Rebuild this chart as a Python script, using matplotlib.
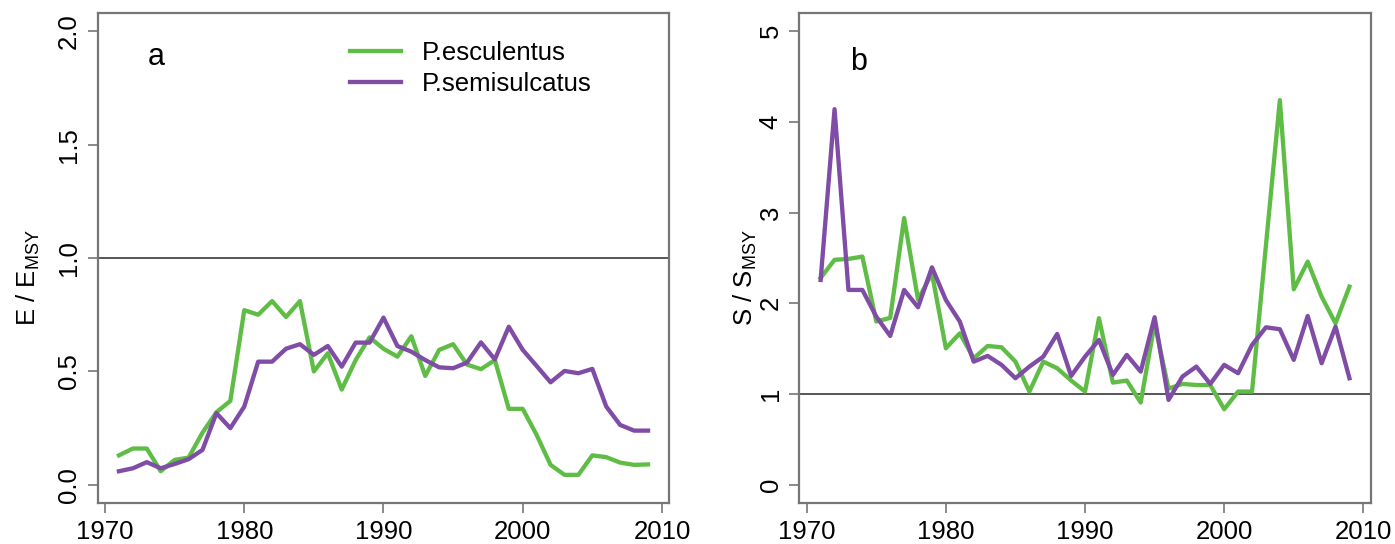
import numpy as np
import matplotlib
matplotlib.use('Agg')
import matplotlib.pyplot as plt

plt.rcParams['font.family'] = ['Liberation Sans', 'DejaVu Sans']
plt.rcParams['mathtext.default'] = 'regular'

# data
years = np.arange(1971, 2010)

e_esculentus = [0.13, 0.16, 0.16, 0.06, 0.11, 0.12, 0.23, 0.32, 0.37, 0.77,
                0.75, 0.81, 0.74, 0.81, 0.50, 0.58, 0.42, 0.55, 0.65, 0.60,
                0.565, 0.655, 0.48, 0.595, 0.62, 0.53, 0.51, 0.55, 0.335, 0.335,
                0.22, 0.088, 0.044, 0.044, 0.13, 0.122, 0.098, 0.088, 0.09]
e_semisulcatus = [0.06, 0.073, 0.10, 0.073, 0.092, 0.113, 0.154, 0.316, 0.25, 0.345,
                  0.543, 0.543, 0.60, 0.62, 0.573, 0.612, 0.521, 0.627, 0.627, 0.737,
                  0.612, 0.587, 0.55, 0.518, 0.514, 0.539, 0.628, 0.553, 0.697, 0.595,
                  0.524, 0.452, 0.502, 0.492, 0.511, 0.345, 0.264, 0.239, 0.239]

s_esculentus = [2.28, 2.48, 2.49, 2.515, 1.80, 1.84, 2.94, 2.04, 2.33, 1.505,
                1.67, 1.395, 1.53, 1.516, 1.358, 1.028, 1.358, 1.285, 1.15, 1.028,
                1.836, 1.127, 1.149, 0.907, 1.78, 1.06, 1.112, 1.10, 1.10, 0.833,
                1.028, 1.028, 2.64, 4.24, 2.155, 2.46, 2.074, 1.78, 2.184]
s_semisulcatus = [2.258, 4.14, 2.148, 2.148, 1.854, 1.641, 2.148, 1.957, 2.397, 2.037,
                  1.80, 1.358, 1.421, 1.322, 1.175, 1.303, 1.413, 1.663, 1.20, 1.413,
                  1.597, 1.211, 1.432, 1.248, 1.847, 0.936, 1.193, 1.303, 1.112, 1.322,
                  1.23, 1.542, 1.736, 1.715, 1.377, 1.861, 1.34, 1.744, 1.175]

green = '#5fbd46'
purple = '#7f4ca6'
fs = 18.5
spine_col = '#767676'

fig = plt.figure(figsize=(13.95, 5.44), dpi=100)
ax1 = fig.add_axes([0.0701, 0.0754, 0.4096, 0.9007])
ax2 = fig.add_axes([0.5731, 0.0754, 0.4094, 0.9007])


def style_axis(ax, ylim, yticks, yticklabels):
    ax.set_xlim(1969.48, 2010.52)
    ax.set_ylim(*ylim)
    ax.set_xticks([1970, 1980, 1990, 2000, 2010])
    ax.set_yticks(yticks)
    ax.set_yticklabels(yticklabels)
    ax.tick_params(axis='both', direction='out', length=7, width=1.2,
                   color=spine_col, labelsize=fs, pad=5)
    ax.tick_params(axis='y', labelrotation=90)
    for lab in ax.get_yticklabels():
        lab.set_va('center')
    for s in ax.spines.values():
        s.set_color(spine_col)
        s.set_linewidth(1.6)
    ax.axhline(1.0, color='#3a3a3a', lw=1.2, zorder=1)


# panel a
ax1.plot(years, e_esculentus, color=green, lw=3.1, label='P.esculentus')
ax1.plot(years, e_semisulcatus, color=purple, lw=3.1, label='P.semisulcatus')
style_axis(ax1, (-0.08, 2.08), [0, 0.5, 1.0, 1.5, 2.0], ['0.0', '0.5', '1.0', '1.5', '2.0'])
ax1.set_ylabel('E / E$_{MSY}$', fontsize=fs)
ax1.yaxis.set_label_coords(-0.098, 0.46)
ax1.text(1973.7, 1.885, 'a', fontsize=22, ha='center', va='center')
ax1.legend(loc='upper left', bbox_to_anchor=(0.441, 0.943), frameon=False,
           fontsize=fs, handlelength=2.0, handletextpad=0.8, labelspacing=0.28,
           borderpad=0, borderaxespad=0)

# panel b
ax2.plot(years, s_esculentus, color=green, lw=3.1)
ax2.plot(years, s_semisulcatus, color=purple, lw=3.1)
style_axis(ax2, (-0.2, 5.2), [0, 1, 2, 3, 4, 5], ['0', '1', '2', '3', '4', '5'])
ax2.set_ylabel('S / S$_{MSY}$', fontsize=fs)
ax2.yaxis.set_label_coords(-0.07, 0.46)
ax2.text(1973.7, 4.66, 'b', fontsize=22, ha='center', va='center')

fig.savefig('out.png', dpi=100)
